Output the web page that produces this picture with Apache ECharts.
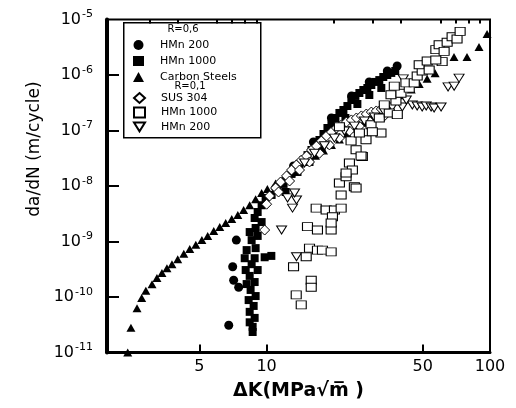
<!DOCTYPE html>
<html>
<head>
<meta charset="utf-8">
<script src="https://cdn.jsdelivr.net/npm/echarts@6/dist/echarts.min.js"></script>
<style>
  html, body { margin: 0; padding: 0; background: #fff; }
  #chart { width: 516px; height: 408px; }
</style>
</head>
<body>
<div id="chart"></div>
<script>
// axis ticks (ΔK in MPa√m, da/dN in m/cycle)
const xMajorTicks = [5, 10, 50, 100]
const xMinorTicks = [3, 4, 6, 7, 8, 9, 20, 30, 40, 60, 70, 80, 90]
const yTickValues = [1e-10, 1e-9, 1e-8, 1e-7, 1e-6]
const yLabelValues = [1e-11, 1e-10, 1e-9, 1e-8, 1e-7, 1e-6, 1e-5]

// R = 0.6
const hmn200R06 = [
  [6.77, 3.1e-11], [7.12, 2.0e-10], [7.5, 1.5e-10], [7.05, 3.5e-10], [7.32, 1.06e-9],
  [10.97, 9.2e-9], [13.2, 2.29e-8], [16.2, 6.2e-8], [19.5, 1.68e-7], [24.0, 4.2e-7],
  [28.8, 7.5e-7], [34.7, 1.18e-6], [38.4, 1.45e-6]
]
const hmn1000R06 = [
  [8.66, 2.34e-11], [8.66, 2.9e-11], [8.40, 3.5e-11], [8.84, 4.2e-11], [8.40, 5.4e-11],
  [8.75, 6.9e-11], [8.31, 8.8e-11], [8.93, 1.04e-10], [8.48, 1.34e-10], [8.14, 1.71e-10],
  [8.84, 1.86e-10], [8.40, 2.4e-10], [8.06, 3.06e-10], [9.12, 3.06e-10], [8.57, 3.9e-10],
  [7.98, 5.0e-10], [8.84, 5.0e-10], [9.80, 5.2e-10], [10.5, 5.5e-10], [8.14, 7.0e-10],
  [8.93, 7.6e-10], [8.57, 1.06e-9], [9.12, 1.26e-9], [8.40, 1.48e-9], [8.93, 1.75e-9],
  [9.50, 2.24e-9], [8.84, 2.65e-9], [9.12, 3.4e-9], [9.50, 4.5e-9], [9.90, 6.1e-9],
  [10.53, 6.9e-9], [11.2, 8.5e-9], [11.91, 1.09e-8], [12.41, 1.39e-8], [12.93, 1.65e-8],
  [13.47, 2.11e-8], [14.04, 2.49e-8], [14.63, 2.94e-8], [15.24, 3.6e-8], [15.88, 4.45e-8],
  [16.55, 5.26e-8], [17.24, 6.74e-8], [17.97, 8.65e-8], [18.72, 1.11e-7], [19.51, 1.31e-7],
  [20.33, 1.68e-7], [21.18, 2.07e-7], [22.07, 2.34e-7], [23.0, 2.76e-7], [23.96, 3.54e-7],
  [24.97, 4.19e-7], [26.02, 4.74e-7], [27.11, 5.37e-7], [28.25, 5.84e-7], [29.43, 6.6e-7],
  [30.67, 7.5e-7], [31.95, 8.1e-7], [33.29, 9.2e-7], [34.69, 1.0e-6], [36.15, 1.09e-6],
  [37.66, 1.18e-6],
  [12.16, 7.8e-9], [13.75, 1.79e-8], [15.56, 2.71e-8], [17.6, 4.84e-8], [19.92, 9.4e-8],
  [22.53, 1.68e-7], [25.49, 3.0e-7], [28.83, 4.36e-7], [32.62, 5.84e-7]
]
const carbonSteels = [
  [2.39, 1.0e-11], [2.47, 2.8e-11], [2.63, 6.3e-11], [2.76, 9.6e-11], [2.88, 1.3e-10],
  [3.07, 1.7e-10], [3.23, 2.2e-10], [3.40, 2.7e-10], [3.58, 3.3e-10], [3.77, 3.9e-10],
  [4.0, 4.8e-10], [4.26, 6.0e-10], [4.53, 7.3e-10], [4.82, 8.7e-10], [5.13, 1.06e-9],
  [5.45, 1.26e-9], [5.80, 1.55e-9], [6.17, 1.82e-9], [6.56, 2.15e-9], [6.98, 2.54e-9],
  [7.43, 3.0e-9], [7.89, 3.7e-9], [8.40, 4.5e-9], [8.93, 5.8e-9], [9.50, 7.5e-9],
  [10.08, 8.8e-9], [10.97, 1.11e-8], [11.91, 1.39e-8], [12.93, 1.76e-8], [14.04, 2.21e-8],
  [15.24, 2.78e-8], [16.55, 3.49e-8], [17.97, 4.38e-8], [19.51, 5.5e-8], [21.18, 6.9e-8],
  [23.0, 8.7e-8], [24.97, 1.09e-7], [27.11, 1.38e-7], [29.43, 1.74e-7], [31.95, 2.18e-7],
  [34.69, 2.74e-7], [37.66, 3.44e-7], [40.9, 4.33e-7], [44.4, 5.5e-7], [48.2, 6.9e-7],
  [52.3, 8.6e-7], [56.8, 1.08e-6], [69.0, 2.1e-6], [78.9, 2.1e-6], [89.3, 3.2e-6],
  [97.0, 5.5e-6]
]

// R = 0.1
const sus304R01 = [
  [9.80, 1.61e-9], [10.0, 4.7e-9], [10.31, 6.6e-9], [10.97, 9.2e-9], [11.55, 1.18e-8],
  [12.28, 1.52e-8], [12.93, 1.94e-8], [13.61, 2.4e-8], [14.33, 2.94e-8], [15.09, 3.47e-8],
  [15.88, 4.45e-8], [16.72, 5.26e-8], [17.6, 6.5e-8], [18.53, 7.96e-8], [19.51, 9.4e-8],
  [20.54, 1.11e-7], [21.62, 1.26e-7], [22.76, 1.42e-7], [23.96, 1.55e-7], [25.23, 1.68e-7],
  [26.56, 1.83e-7], [27.95, 1.98e-7], [29.43, 2.15e-7], [30.98, 2.25e-7], [32.62, 2.44e-7],
  [11.31, 7.8e-9], [12.67, 1.23e-8], [14.04, 1.94e-8], [15.56, 2.71e-8], [17.24, 3.9e-8],
  [19.11, 5.5e-8], [21.18, 7.3e-8], [23.48, 9.8e-8], [26.02, 1.2e-7], [28.83, 1.48e-7],
  [33.64, 1.83e-7]
]
const hmn1000R01 = [
  [13.57, 1.09e-10], [14.29, 7.2e-11], [13.2, 3.5e-10], [15.84, 2.0e-10], [15.84, 1.5e-10],
  [15.04, 5.3e-10], [15.56, 7.6e-10], [16.89, 7.0e-10], [17.78, 7.0e-10], [19.45, 6.5e-10],
  [15.24, 1.85e-9], [16.89, 1.61e-9], [19.45, 1.61e-9], [16.67, 4.0e-9], [18.47, 3.7e-9],
  [20.12, 3.7e-9], [21.56, 4.0e-9], [19.71, 2.8e-9], [19.45, 2.15e-9], [21.18, 1.13e-8],
  [21.56, 6.9e-9], [24.71, 9.7e-9], [22.69, 1.47e-8], [23.48, 2.6e-8], [26.83, 3.4e-8],
  [24.21, 1.94e-8], [25.15, 9.2e-9], [22.69, 1.72e-8], [25.15, 4.5e-8], [26.48, 3.47e-8],
  [23.88, 6.5e-8], [27.86, 6.8e-8], [29.34, 1.27e-7], [32.51, 9.0e-8], [31.95, 1.68e-7],
  [29.74, 9.5e-8], [35.41, 2.07e-7], [38.46, 1.93e-7], [37.93, 3.4e-7], [33.64, 2.9e-7],
  [36.05, 4.4e-7], [39.94, 4.7e-7], [37.29, 6.3e-7], [43.5, 5.8e-7], [42.04, 7.2e-7],
  [45.79, 7.2e-7], [47.22, 9.6e-7], [49.71, 1.18e-6], [48.2, 1.53e-6], [52.35, 1.79e-6],
  [57.23, 2.86e-6], [59.2, 3.5e-6], [62.32, 2.67e-6], [64.3, 3.9e-6], [67.67, 4.9e-6],
  [71.2, 4.45e-6], [73.5, 6.1e-6], [61.06, 1.74e-6], [53.42, 1.23e-6], [57.2, 1.86e-6],
  [21.18, 1.17e-7], [26.02, 9.0e-8]
]
const hmn200R01 = [
  [36.5, 2.65e-7], [40.5, 2.65e-7], [44.9, 2.88e-7], [47.2, 2.76e-7], [49.7, 2.65e-7],
  [51.8, 2.76e-7], [54.5, 2.65e-7], [56.2, 2.54e-7], [60.4, 2.65e-7], [42.2, 3.54e-7],
  [64.9, 6.1e-7], [69.1, 6.3e-7], [72.7, 8.8e-7], [40.9, 8.5e-7],
  [11.67, 1.61e-9], [13.61, 5.3e-10], [12.41, 6.1e-9], [13.61, 5.6e-9], [13.06, 4.0e-9],
  [13.34, 7.5e-9],
  [14.78, 2.6e-8], [16.38, 3.9e-8], [18.15, 5.3e-8], [20.12, 7.3e-8], [22.3, 9.8e-8],
  [24.71, 1.2e-7], [27.39, 1.48e-7], [30.35, 1.75e-7], [33.64, 2.15e-7]
]

const FONT = 'DejaVu Sans'
const downTriangle = 'path://M0,0L10,0L5,8Z'
const filled = { color: '#000', opacity: 1 }
const hollow = { color: '#fff', borderColor: '#000', borderWidth: 1, opacity: 1 }

function scatter(name, data, symbol, size, style) {
  return {
    name,
    type: 'scatter',
    data,
    symbol,
    symbolSize: size,
    itemStyle: style,
    emphasis: { disabled: true },
    clip: false
  }
}

const series = [
  scatter('HMn 1000|0.6', hmn1000R06, 'rect', [8, 8], filled),
  scatter('HMn 200|0.6', hmn200R06, 'circle', 9, filled),
  scatter('Carbon Steels', carbonSteels, 'triangle', [9, 8], filled),
  scatter('SUS 304', sus304R01, 'diamond', [10, 10], hollow),
  scatter('HMn 200|0.1', hmn200R01, downTriangle, [10, 8], hollow),
  scatter('HMn 1000|0.1', hmn1000R01, 'rect', [10, 8], hollow)
]

const legendBase = {
  orient: 'vertical',
  left: 133,
  padding: 0,
  itemWidth: 11,
  itemHeight: 10,
  selectedMode: false,
  formatter: name => name.split('|')[0],
  textStyle: { fontFamily: FONT, fontSize: 11, lineHeight: 12, color: '#000', padding: [0, 0, 0, 11] }
}

const chart = echarts.init(document.getElementById('chart'), null, { renderer: 'canvas' })

chart.setOption({
  animation: false,
  backgroundColor: '#fff',
  grid: {
    left: 107, right: 26, top: 19.5, bottom: 55.5,
    show: true, borderColor: '#000', borderWidth: 2
  },
  legend: [
    { ...legendBase, top: 39, itemGap: 4, data: ['HMn 200|0.6', 'HMn 1000|0.6', 'Carbon Steels'] },
    { ...legendBase, top: 92, itemGap: 2.5, data: ['SUS 304', 'HMn 1000|0.1', 'HMn 200|0.1'] }
  ],
  xAxis: [
    {
      type: 'log', logBase: 10, min: 1.93, max: 100,
      axisLine: { show: true, onZero: false, lineStyle: { color: '#000', width: 3 } },
      axisTick: { show: true, inside: true, length: 8, customValues: xMajorTicks, lineStyle: { color: '#000', width: 2 } },
      axisLabel: {
        customValues: xMajorTicks, margin: 6, color: '#000', fontFamily: FONT, fontSize: 16,
        formatter: v => String(Math.round(v))
      },
      splitLine: { show: false },
      name: 'ΔK(MPa√m\u0305 )', nameLocation: 'middle', nameGap: 29,
      nameTextStyle: { fontFamily: FONT, fontSize: 19, fontWeight: 'bold', color: '#000', verticalAlign: 'top' }
    },
    {
      type: 'log', logBase: 10, min: 1.93, max: 100,
      axisLine: { show: false },
      axisTick: { show: true, inside: true, length: 4, customValues: xMinorTicks, lineStyle: { color: '#000', width: 2 } },
      axisLabel: { show: false },
      splitLine: { show: false }
    }
  ],
  yAxis: {
    type: 'log', logBase: 10, min: 1e-11, max: 1e-5,
    axisLine: { show: true, onZero: false, lineStyle: { color: '#000', width: 4 } },
    axisTick: { show: true, inside: true, length: 12, customValues: yTickValues, lineStyle: { color: '#000', width: 2 } },
    axisLabel: {
      customValues: yLabelValues, margin: 14,
      formatter: v => '{b|10}{s|' + Math.round(Math.log10(v)) + '}',
      rich: {
        b: { fontFamily: FONT, fontSize: 16, color: '#000' },
        s: { fontFamily: FONT, fontSize: 11, color: '#000', padding: [0, 0, 10, 1] }
      }
    },
    splitLine: { show: false },
    name: 'da/dN (m/cycle)', nameLocation: 'middle', nameGap: 60, nameRotate: 90,
    nameTextStyle: { fontFamily: FONT, fontSize: 17, color: '#000', padding: [0, 0, 0, 74] }
  },
  graphic: [
    {
      type: 'rect', left: 123, top: 22, z: 0,
      shape: { width: 137, height: 115 },
      style: { fill: '#fff', stroke: '#000', lineWidth: 1.5 }
    },
    {
      type: 'text', x: 183, y: 29, z: 1,
      style: { text: 'R=0,6', fontFamily: FONT, fontSize: 10, fill: '#000', align: 'center', verticalAlign: 'middle' }
    },
    {
      type: 'text', x: 190, y: 86, z: 1,
      style: { text: 'R=0,1', fontFamily: FONT, fontSize: 10, fill: '#000', align: 'center', verticalAlign: 'middle' }
    }
  ],
  series
})
</script>
</body>
</html>
